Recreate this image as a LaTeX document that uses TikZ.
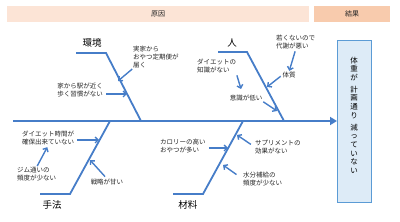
\documentclass[tikz,border=0pt]{standalone}
\usepackage{fontspec}
\setmainfont{Noto Sans CJK JP}
\usetikzlibrary{arrows.meta,calc}
\definecolor{bone}{RGB}{70,125,200}
\definecolor{hdrA}{RGB}{252,228,214}
\definecolor{hdrB}{RGB}{248,203,173}
\definecolor{resfill}{RGB}{221,235,247}
\definecolor{resdraw}{RGB}{91,155,213}
\tikzset{
  bonestyle/.style={draw=bone,line width=1.8pt},
  subarrow/.style={draw=bone,line width=1.4pt,-{Straight Barb[length=3pt,width=6pt]}},
  cause/.style={inner sep=0pt,font=\fontsize{6.5}{8}\selectfont,text=black!85},
  catlabel/.style={inner sep=0pt,font=\fontsize{9.5}{11}\selectfont},
  hdr/.style={inner sep=0pt,font=\fontsize{7}{8}\selectfont,text=black!85}
}
\begin{document}
\begin{tikzpicture}[x=1pt,y=-1pt]
\useasboundingbox (0,0) rectangle (400,222);
% header bars
\fill[hdrA] (7,6) rectangle (309,22);
\fill[hdrB] (314,6) rectangle (390,22);
\node[hdr] (hcause) at (158,14) {原因};
\node[hdr] (hres) at (352,14) {結果};
% result box
\node[draw=resdraw,fill=resfill,line width=1pt,minimum width=34pt,minimum height=162pt,inner sep=0pt,anchor=north west] (res) at (337,40) {};
\node[inner sep=0pt,align=center,font=\fontsize{7.5}{8.6}\selectfont] (restext) at (354,115)
  {体\\重\\が\\[3.5pt]計\\画\\通\\り\\[3.5pt]減\\っ\\て\\い\\な\\い};
% spine
\coordinate (spL) at (13,121);
\draw[bonestyle,-{Triangle[length=7pt,width=8pt]}] (spL) -- (res.west |- spL);
% bones
\coordinate (a0) at (76,53); \coordinate (a1) at (106,53); \coordinate (a2) at (141,121);
\coordinate (b0) at (218,52); \coordinate (b1) at (247,52); \coordinate (b2) at (284,121);
\coordinate (c0) at (40,194); \coordinate (c1) at (70,194); \coordinate (c2) at (110,121);
\coordinate (d0) at (173,194); \coordinate (d1) at (203,194); \coordinate (d2) at (243,121);
\draw[bonestyle,line join=miter] (a0) -- (a1) -- (a2);
\draw[bonestyle,line join=miter] (b0) -- (b1) -- (b2);
\draw[bonestyle,line join=miter] (c0) -- (c1) -- (c2);
\draw[bonestyle,line join=miter] (d0) -- (d1) -- (d2);
% category labels
\node[catlabel] (kankyo) at (92,43) {環境};
\node[catlabel] (hito) at (232,43) {人};
\node[catlabel] (shuho) at (52,205) {手法};
\node[catlabel] (zairyo) at (188,205) {材料};
% cause texts
\node[cause,align=left,anchor=north west] (jikka) at (133,46) {実家から\\おやつ定期便が\\届く};
\node[cause,align=left,anchor=north east] (eki) at (103,83) {家から駅が近く\\歩く習慣がない};
\node[cause,align=left,anchor=north west] (chishiki) at (197,59) {ダイエットの\\知識がない};
\node[cause] (ishiki) at (246,98) {意識が低い};
\node[cause,align=left,anchor=north west] (wakaku) at (276,35) {若くないので\\代謝が悪い};
\node[cause] (taishitsu) at (289,75) {体質};
\node[cause,align=left,anchor=north west] (jikan) at (22,131) {ダイエット時間が\\確保出来ていない};
\node[cause,align=left,anchor=north west] (gym) at (17,167) {ジム通いの\\頻度が少ない};
\node[cause] (senryaku) at (107,182) {戦略が甘い};
\node[cause,align=left,anchor=north west] (calorie) at (160,139) {カロリーの高い\\おやつが多い};
\node[cause,align=left,anchor=north west] (supple) at (255,140) {サプリメントの\\効果がない};
\node[cause,align=left,anchor=north west] (suibun) at (243,172) {水分補給の\\頻度が少ない};
% arrow tips on bones
\coordinate (t1) at (118,81);
\coordinate (t2) at (127,94);
\coordinate (t3) at (241,89);
\coordinate (t4) at (277,111);
\coordinate (t6) at (267,87);
\coordinate (t7) at (99,140);
\coordinate (t9) at (90,160);
\coordinate (t10) at (228,148);
\coordinate (t11) at (237,135);
\coordinate (t12) at (223,165);
% sub arrows
\draw[subarrow,shorten <=1pt] (jikka.south west) -- (t1);
\draw[subarrow,shorten <=3pt] (eki.east |- t2) -- (t2);
\draw[subarrow,shorten <=2pt] (chishiki.south east) -- (t3);
\draw[subarrow,shorten <=1pt] (ishiki.south east) -- (t4);
\draw[subarrow,shorten <=2pt,shorten >=1pt] (wakaku.south) -- (taishitsu.north);
\draw[subarrow,shorten <=2pt] (taishitsu.west) -- (t6);
\draw[subarrow,shorten <=3pt] (jikan.east |- t7) -- (t7);
\draw[subarrow,shorten <=1pt,shorten >=2pt] (gym.north) -- (jikan.south);
\draw[subarrow,shorten <=3pt] (senryaku.north) -- (t9);
\draw[subarrow,shorten <=3pt] (calorie.east |- t10) -- (t10);
\draw[subarrow,shorten <=5pt] (supple.west) -- (t11);
\draw[subarrow,shorten <=8pt] (suibun.west) -- (t12);
\end{tikzpicture}
\end{document}
